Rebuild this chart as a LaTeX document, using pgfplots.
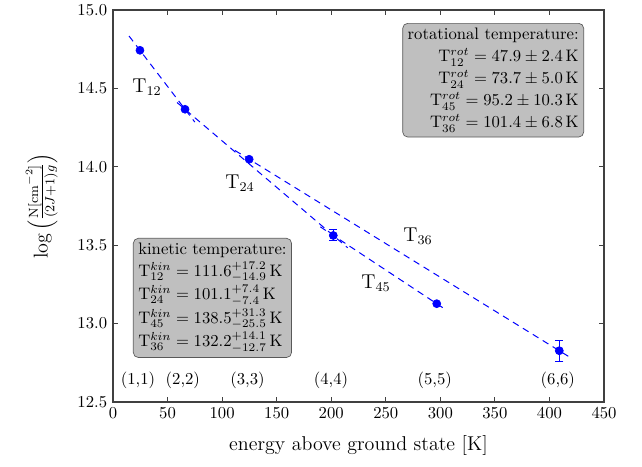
\documentclass[border=0pt]{standalone}
\usepackage{pgfplots}
\pgfplotsset{compat=1.18}
\pgfplotstableread{
x y ey
201.9 13.562 0.035
409.0 12.827 0.068
}\errdata
\pgfplotstableread{
x y
24.7 14.743
66.0 14.367
124.8 14.048
201.9 13.562
296.7 13.127
409.0 12.827
}\pts
\begin{document}
\begin{tikzpicture}
\path[use as bounding box] (-67.8pt,-39pt) rectangle (317.4pt,241.2pt);
\begin{axis}[
  at={(0,0)}, anchor=south west, scale only axis,
  width=294.6pt, height=235.2pt,
  xmin=0, xmax=450, ymin=12.5, ymax=15,
  xtick={0,50,...,450}, ytick={12.5,13,...,15},
  yticklabel style={/pgf/number format/.cd,fixed,fixed zerofill,precision=1},
  tick align=inside, major tick length=3pt, minor tick num=0,
  tick style={black!75, line width=0.6pt},
  axis line style={black!75, line width=0.9pt},
  xlabel={energy above ground state [K]},
  ylabel={$\log\left(\frac{\mathrm{N[cm}^{-2}]}{(2J+1)g}\right)$},
  label style={font=\large},
  xlabel style={at={(axis description cs:0.5,-0.11)}, anchor=center},
  ylabel style={at={(axis description cs:-0.145,0.5)}, anchor=center},
  clip=false,
]
% fitted lines
\addplot[blue, line width=0.6pt, dash pattern=on 4pt off 3pt] coordinates {(14.7,14.834) (75,14.285)};
\addplot[blue, line width=0.6pt, dash pattern=on 4pt off 3pt] coordinates {(58.7,14.410) (215,13.484)};
\addplot[blue, line width=0.6pt, dash pattern=on 4pt off 3pt] coordinates {(190,13.617) (304.3,13.092)};
\addplot[blue, line width=0.6pt, dash pattern=on 4pt off 3pt] coordinates {(111.8,14.104) (418.8,12.785)};
% error bars
\addplot[blue, only marks, mark=none, line width=0.6pt,
  error bars/.cd, y dir=both, y explicit,
  error mark options={rotate=90, mark size=2.4pt, blue, line width=0.6pt}]
  table[x=x, y=y, y error=ey] {\errdata};
% points
\addplot[only marks, mark=*, mark size=2.4pt, blue, mark options={fill=blue, draw=blue}] table[x=x,y=y] {\pts};
% labels
\node[font=\large] at (axis cs:31.2,14.509) {T$_{12}$};
\node[font=\large] at (axis cs:116.4,13.897) {T$_{24}$};
\node[font=\large] at (axis cs:279.5,13.559) {T$_{36}$};
\node[font=\large] at (axis cs:241,13.259) {T$_{45}$};
\node at (axis cs:22.9,12.636) {(1,1)};
\node at (axis cs:64,12.636) {(2,2)};
\node at (axis cs:123.3,12.636) {(3,3)};
\node at (axis cs:199.8,12.636) {(4,4)};
\node at (axis cs:294.9,12.636) {(5,5)};
\node at (axis cs:407.7,12.636) {(6,6)};
\node[anchor=north east, fill=gray!50, draw=black!65, rounded corners=3pt, align=right, inner sep=3pt]
  at (axis cs:431.7,14.917) {rotational temperature:\\[1.2pt]
  $\mathrm{T}^{rot}_{12} = 47.9\pm2.4\,\mathrm{K}$\\[1.2pt]
  $\mathrm{T}^{rot}_{24} = 73.7\pm5.0\,\mathrm{K}$\\[1.2pt]
  $\mathrm{T}^{rot}_{45} = 95.2\pm10.3\,\mathrm{K}$\\[1.2pt]
  $\mathrm{T}^{rot}_{36} = 101.4\pm6.8\,\mathrm{K}$};
\node[anchor=north west, fill=gray!50, draw=black!65, rounded corners=3pt, align=left, inner sep=3pt]
  at (axis cs:18.3,13.546) {kinetic temperature:\\[0.8pt]
  $\mathrm{T}^{kin}_{12} = 111.6^{+17.2}_{-14.9}\,\mathrm{K}$\\[0.8pt]
  $\mathrm{T}^{kin}_{24} = 101.1^{+7.4}_{-7.4}\,\mathrm{K}$\\[0.8pt]
  $\mathrm{T}^{kin}_{45} = 138.5^{+31.3}_{-25.5}\,\mathrm{K}$\\[0.8pt]
  $\mathrm{T}^{kin}_{36} = 132.2^{+14.1}_{-12.7}\,\mathrm{K}$};
\end{axis}
\end{tikzpicture}
\end{document}
